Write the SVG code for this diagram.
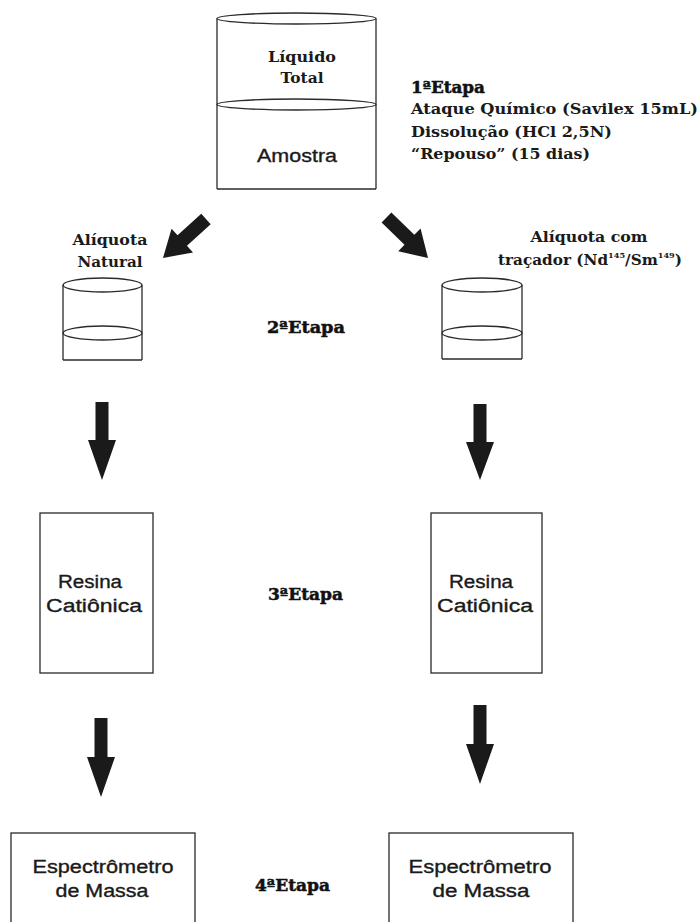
<svg xmlns="http://www.w3.org/2000/svg" width="699" height="922" viewBox="0 0 699 922">
<style>
.ln{fill:none;stroke:#2a2a2a;stroke-width:1.3}
.bx{fill:#fff;stroke:#2a2a2a;stroke-width:1.3}
.ar{fill:#1a1a1a;stroke:none}
.sf{font-family:"DejaVu Serif","Liberation Serif",serif;fill:#1a1a1a;font-size:15px;font-weight:bold}
.sb{font-family:"DejaVu Serif","Liberation Serif",serif;fill:#111;stroke:#111;stroke-width:0.5;font-size:16px;font-weight:bold}
.ss{font-family:"Liberation Sans",Arial,sans-serif;fill:#1a1a1a;stroke:#1a1a1a;stroke-width:0.35;font-size:18px}
</style>
<defs>
<polygon id="diag" points="-58,-7 -26,-7 -26,-16 0,0 -26,16 -26,7 -58,7"/>
</defs>
<rect width="699" height="922" fill="#fff"/>

<g id="amostra-total">
<line class="ln" x1="217" y1="18.5" x2="217" y2="189"/>
<line class="ln" x1="376" y1="18.5" x2="376" y2="189"/>
<line class="ln" x1="217" y1="189" x2="376" y2="189"/>
<ellipse class="ln" cx="296.5" cy="18.5" rx="79.5" ry="5.5"/>
<ellipse class="ln" cx="296.5" cy="104.5" rx="79.5" ry="5.5"/>
<text class="sf" x="302" y="62" text-anchor="middle" textLength="68" lengthAdjust="spacingAndGlyphs">Líquido</text>
<text class="sf" x="302" y="83" text-anchor="middle" textLength="43" lengthAdjust="spacingAndGlyphs">Total</text>
<text class="ss" x="297" y="162" text-anchor="middle" textLength="80" lengthAdjust="spacingAndGlyphs">Amostra</text>
</g>

<g id="etapa1">
<text class="sb" x="411" y="93" textLength="74" lengthAdjust="spacingAndGlyphs">1ªEtapa</text>
<text class="sf" x="411" y="114" textLength="287" lengthAdjust="spacingAndGlyphs">Ataque Químico (Savilex 15mL)</text>
<text class="sf" x="411" y="137" textLength="201" lengthAdjust="spacingAndGlyphs">Dissolução (HCl 2,5N)</text>
<text class="sf" x="411" y="159" textLength="179" lengthAdjust="spacingAndGlyphs">“Repouso” (15 dias)</text>
</g>

<g id="aliquota-natural">
<text class="sf" x="110" y="245" text-anchor="middle" textLength="75" lengthAdjust="spacingAndGlyphs">Alíquota</text>
<text class="sf" x="110" y="267" text-anchor="middle" textLength="65" lengthAdjust="spacingAndGlyphs">Natural</text>
<line class="ln" x1="63" y1="285" x2="63" y2="360"/>
<line class="ln" x1="142" y1="285" x2="142" y2="360"/>
<line class="ln" x1="63" y1="360" x2="142" y2="360"/>
<ellipse class="ln" cx="102.5" cy="285" rx="39.5" ry="7"/>
<ellipse class="ln" cx="102.5" cy="333" rx="39.5" ry="7"/>
</g>

<g id="aliquota-tracador">
<text class="sf" x="589" y="242" text-anchor="middle" textLength="117" lengthAdjust="spacingAndGlyphs">Alíquota com</text>
<text class="sf" x="498" y="265" textLength="184" lengthAdjust="spacingAndGlyphs">traçador (Nd<tspan font-size="8" dy="-7">145</tspan><tspan dy="7">/Sm</tspan><tspan font-size="8" dy="-7">149</tspan><tspan dy="7">)</tspan></text>
<line class="ln" x1="442" y1="285" x2="442" y2="359"/>
<line class="ln" x1="522" y1="285" x2="522" y2="359"/>
<line class="ln" x1="442" y1="359" x2="522" y2="359"/>
<ellipse class="ln" cx="482" cy="285" rx="40" ry="7"/>
<ellipse class="ln" cx="482" cy="333" rx="40" ry="7"/>
</g>

<g id="etapa2"><text class="sb" x="267" y="333" textLength="78" lengthAdjust="spacingAndGlyphs">2ªEtapa</text></g>

<g id="resina-1">
<rect class="bx" x="40" y="513" width="113" height="160"/>
<text class="ss" x="90" y="588" text-anchor="middle" textLength="64" lengthAdjust="spacingAndGlyphs">Resina</text>
<text class="ss" x="94" y="612" text-anchor="middle" textLength="96" lengthAdjust="spacingAndGlyphs">Catiônica</text>
</g>
<g id="resina-2">
<rect class="bx" x="431" y="513" width="111" height="160"/>
<text class="ss" x="481" y="588" text-anchor="middle" textLength="64" lengthAdjust="spacingAndGlyphs">Resina</text>
<text class="ss" x="485" y="612" text-anchor="middle" textLength="96" lengthAdjust="spacingAndGlyphs">Catiônica</text>
</g>
<g id="etapa3"><text class="sb" x="268" y="600" textLength="75" lengthAdjust="spacingAndGlyphs">3ªEtapa</text></g>

<g id="espectrometro-1">
<rect class="bx" x="11" y="833" width="184" height="100"/>
<text class="ss" x="103" y="873" text-anchor="middle" textLength="141" lengthAdjust="spacingAndGlyphs">Espectrômetro</text>
<text class="ss" x="102" y="897" text-anchor="middle" textLength="93" lengthAdjust="spacingAndGlyphs">de Massa</text>
</g>
<g id="espectrometro-2">
<rect class="bx" x="389" y="833" width="184" height="100"/>
<text class="ss" x="480" y="873" text-anchor="middle" textLength="143" lengthAdjust="spacingAndGlyphs">Espectrômetro</text>
<text class="ss" x="481" y="897" text-anchor="middle" textLength="97" lengthAdjust="spacingAndGlyphs">de Massa</text>
</g>
<g id="etapa4"><text class="sb" x="255" y="891" textLength="75" lengthAdjust="spacingAndGlyphs">4ªEtapa</text></g>

<g id="connectors">
<use href="#diag" class="ar" transform="translate(163,258) rotate(137.8)"/>
<use href="#diag" class="ar" transform="translate(428,258) rotate(44.3)"/>
<polygon class="ar" points="95.5,402 108.5,402 108.5,440 116,440 102,480 88,440 95.5,440"/>
<polygon class="ar" points="473.5,404 486.5,404 486.5,442 494,442 480,480 466,442 473.5,442"/>
<polygon class="ar" points="94.5,718 107.5,718 107.5,757 115,757 101,797 87,757 94.5,757"/>
<polygon class="ar" points="473.5,705 486.5,705 486.5,744 494,744 480,784 466,744 473.5,744"/>
</g>
</svg>
